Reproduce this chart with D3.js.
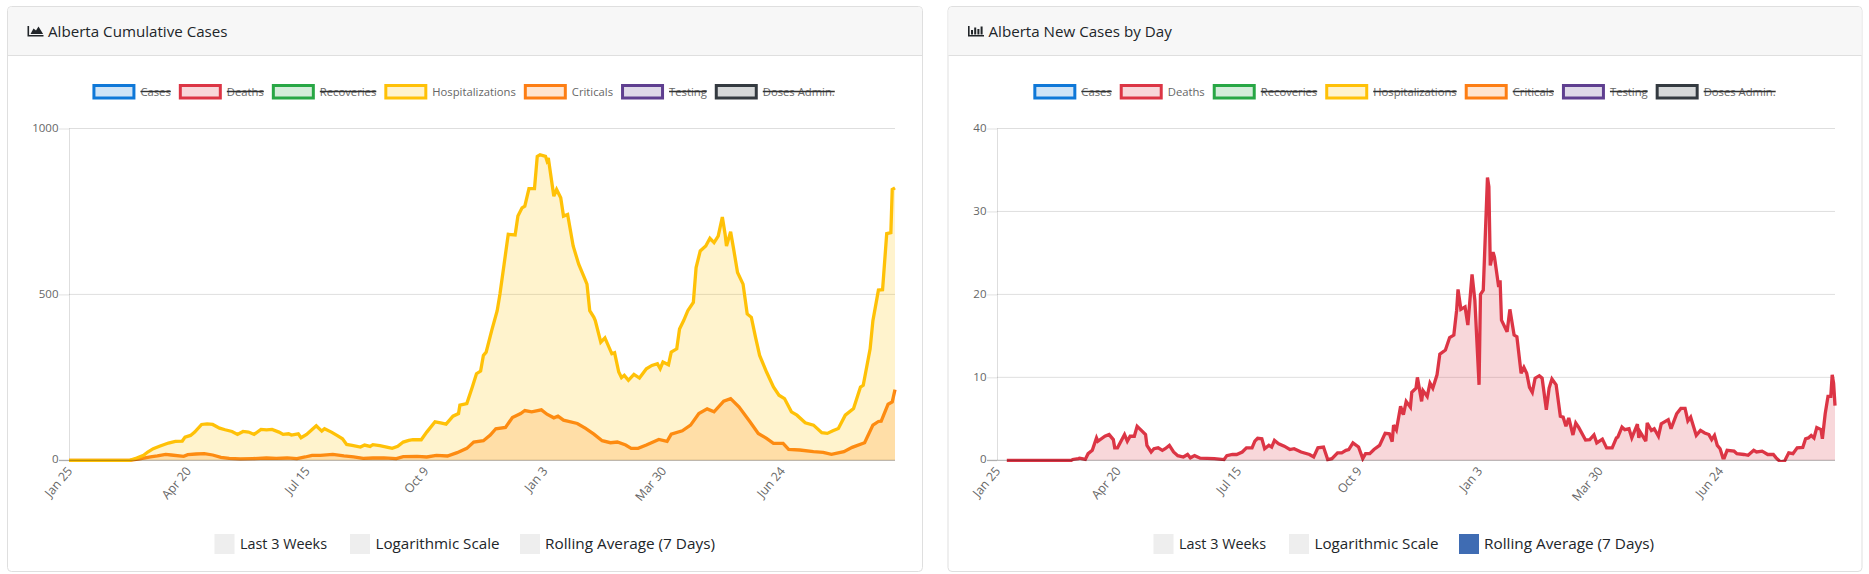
<!DOCTYPE html>
<html><head><meta charset="utf-8">
<script src="https://cdn.jsdelivr.net/npm/d3@7"></script>
<style>
html,body{margin:0;padding:0;background:#fff;overflow:hidden}
svg{display:block;font-family:"Open Sans",sans-serif}
</style></head><body>
<svg id="c" width="1869" height="574"></svg>
<script>
const tickDays=[0,86,172,258,344,430,516];
const tickLabels=["Jan 25","Apr 20","Jul 15","Oct 9","Jan 3","Mar 30","Jun 24"];
const legendNames=["Cases","Deaths","Recoveries","Hospitalizations","Criticals","Testing","Doses Admin."];
const legendColors=["#0f78d8","#dc3545","#28a745","#ffc107","#fd7e14","#5f3f90","#343a40"];
const toggleNames=["Last 3 Weeks","Logarithmic Scale","Rolling Average (7 Days)"];
const lastDay=598;

const hospDays=[0,44,49,54,57,61,66,72,77,82,84,88,91,96,100,104,109,113,118,122,126,130,134,139,143,147,152,155,159,161,166,168,172,176,179,183,185,190,194,198,201,205,211,214,218,220,225,230,234,238,242,246,249,255,259,265,269,273,278,282,283,288,292,295,298,300,302,306,310,312,315,318,323,325,328,330,333,337,339,341,345,346,347,351,353,356,358,361,365,369,373,375,377,380,381,385,388,393,395,398,400,402,405,409,413,418,422,426,428,430,434,436,440,442,445,448,452,454,457,461,464,467,470,473,475,476,479,481,484,488,491,494,497,500,505,510,514,518,523,527,533,539,545,549,553,557,562,568,573,575,580,582,586,589,592,595,596,598];
const hospVals=[0,0,7,15,25,35,43,52,57,58,70,75,85,108,110,108,97,92,87,78,87,85,78,93,92,93,85,78,80,76,80,68,78,93,104,88,95,85,75,65,48,45,40,46,42,47,44,40,36,42,55,60,62,62,85,116,113,109,133,141,166,171,221,261,269,316,326,391,451,501,591,681,679,736,761,766,819,819,916,921,916,903,911,796,816,791,736,741,646,591,551,531,451,431,421,356,369,321,324,266,249,256,241,259,248,276,286,291,276,296,288,326,336,396,421,451,476,581,631,646,669,656,676,733,681,646,689,641,566,531,441,431,371,316,266,221,196,186,146,136,113,106,83,81,89,96,136,156,221,226,336,421,513,514,683,686,816,821];

const critDays=[0,44,51,59,64,70,74,83,86,92,98,104,110,116,124,133,143,150,158,165,171,176,182,191,199,206,213,220,228,237,242,252,259,266,274,281,288,293,300,305,309,316,321,327,330,335,342,346,351,354,358,368,374,380,386,392,397,403,407,412,418,427,433,436,444,450,456,462,467,474,479,485,493,499,505,510,517,521,529,539,546,552,561,567,576,582,586,588,593,596,598];
const critVals=[0,0,4,10,13,18,16,12,17,19,20,16,9,6,4,5,7,6,7,5,10,15,15,18,13,10,6,7,7,5,11,12,10,15,13,23,36,55,59,76,95,99,129,141,150,146,152,139,128,133,121,111,96,79,59,53,55,46,36,36,46,63,57,79,89,106,141,155,146,178,186,161,116,81,66,51,51,33,31,26,24,18,26,39,53,106,117,118,169,176,213];

const deathDays=[7,53,54,58,59,63,65,68,71,72,77,80,83,84,86,91,93,95,98,100,103,106,107,110,112,115,118,120,123,126,129,133,136,138,141,145,155,162,164,168,171,175,178,182,184,186,189,191,194,196,198,201,205,209,212,217,223,226,229,233,236,239,243,246,249,251,254,258,261,263,266,269,273,277,280,282,283,285,288,290,292,295,296,299,300,303,304,307,309,311,314,316,320,323,326,328,329,331,334,336,339,341,344,345,347,350,351,352,354,355,358,359,360,364,366,369,371,374,376,378,380,382,384,387,389,392,394,396,399,402,404,406,408,411,413,415,420,423,426,428,432,435,439,442,443,446,448,451,453,457,458,459,463,464,467,469,472,474,479,481,485,488,491,493,495,499,502,505,508,510,512,514,516,518,519,521,526,528,533,536,540,542,546,550,554,556,559,562,565,568,571,575,577,579,581,583,585,588,589,591,593,595,596,597,598];
const deathVals=[0,0,.1,.2,.25,.1,.8,1.2,2.7,2.3,2.9,3.1,2.5,1.5,1.5,3.1,2.3,2.9,2.9,4.1,3.6,3.1,1.8,1,1.4,1.5,1.2,1.4,1.8,1,.56,.4,.7,.3,.56,.25,.2,.08,.56,.7,.7,1,1.5,1.5,2.3,2.65,2.6,1.4,1.8,1.6,2.4,2,1.7,1.3,1.4,1,.7,.4,1.5,1.6,.08,.2,.9,.9,1.2,1.3,2.1,1.6,.2,.8,.8,1.3,1.8,3.25,3.2,2.25,4.25,3.65,6.5,5.5,7.1,6.4,8.2,8.7,10,7.1,8.4,7.7,9.3,8.7,10.3,12.8,13.3,14.8,15.1,18.1,20.6,18.2,18.5,16.3,22.4,19.3,9.1,20,20.5,34.1,33,23.5,25.1,24.5,20.9,21.7,16.9,15.5,18.2,15.1,14.9,10.5,11.2,10.5,8.8,8.2,9.9,10.2,9.9,6.1,8.7,9.8,9.1,5.3,5.2,4.1,5.1,3.05,4.5,4,2.45,2.5,3.05,2.1,2.55,1.5,1.5,2.7,2.8,4,3.7,3.8,2.7,4.35,2.7,3.4,2.3,4.5,3.6,3.8,2.9,4.4,4.9,3.8,5.6,6.25,6.25,4.75,5.2,3,3.6,3.3,3.1,2.5,3,1.8,1.4,.3,.3,1.2,1.1,.8,.7,.6,1.2,1,1.1,.7,.7,.3,-.2,-.1,.9,.8,1.5,1.55,2.6,2.7,3,2.7,3.95,3.7,2.6,5.6,7.7,7.7,10.3,9.3,6.6];

const svg=d3.select("#c");
let uid=0;

function card(o){
  const g=svg.append("g");
  g.append("rect").attr("x",o.cx+.5).attr("y",6.5).attr("width",o.cw).attr("height",565)
    .attr("rx",4).attr("fill","#fff").attr("stroke","#dfdfdf");
  g.append("path").attr("d",`M${o.cx+1},55V11a4,4 0 0 1 4,-4H${o.cx+o.cw-4}a4,4 0 0 1 4,4V55Z`).attr("fill","#f7f7f7");
  g.append("line").attr("x1",o.cx+1).attr("x2",o.cx+o.cw).attr("y1",55.5).attr("y2",55.5).attr("stroke","#dfdfdf");
  // header icon
  const ix=o.cx+20.5, iy=26;
  g.append("path").attr("fill","#212529").attr("d",o.icon==="area"
    ?`M${ix},${iy}h1.6v9h14.4v1.6h-16Z M${ix+3},${iy+8}l3,-5.5 2.5,2 2.5,-4 4.6,7.5Z`
    :`M${ix},${iy}h1.6v9h14.4v1.6h-16Z M${ix+3},${iy+4}h2v4.6h-2Z M${ix+6.2},${iy+1.5}h2v7.1h-2Z M${ix+9.4},${iy+3}h2v5.6h-2Z M${ix+12.6},${iy+.5}h2v8.1h-2Z`);
  g.append("text").attr("x",o.cx+41).attr("y",36.7).attr("font-size",15.15).attr("fill","#212529").text(o.title);

  // legend
  const gap=8;
  const lg=g.append("g").attr("font-size",11.25).attr("fill","#666");
  const items=legendNames.map((n,i)=>{
    const t=lg.append("text").attr("y",95.5).text(n);
    return {n,i,t,w:t.node().getComputedTextLength()};
  });
  const total=d3.sum(items,d=>d.w+48)+gap*(items.length-1);
  let lx=o.legendCenter-total/2;
  items.forEach(d=>{
    const c=legendColors[d.i];
    lg.append("rect").attr("x",lx+1.5).attr("y",85.5).attr("width",40).attr("height",12.5)
      .attr("fill",d3.color(c).copy({opacity:.2})).attr("stroke",c).attr("stroke-width",3);
    d.t.attr("x",lx+48);
    if(!o.shown.includes(d.n)){
      lg.append("line").attr("x1",lx+48).attr("x2",lx+48+d.w).attr("y1",91.5).attr("y2",91.5)
        .attr("stroke","#333").attr("stroke-width",1.4);
    }
    lx+=d.w+48+gap;
  });

  // scales
  const x=d3.scaleLinear().domain([0,lastDay]).range([o.left,o.right]);
  const y=d3.scaleLinear().domain(o.domain).range([460.3,128.5]);

  // y axis and grid
  const ya=g.append("g").attr("transform",`translate(${o.left},0)`)
    .call(d3.axisLeft(y).tickValues(o.yTicks).tickFormat(d3.format("d")).tickSize(10).tickPadding(0));
  ya.select(".domain").remove();
  ya.selectAll("line").attr("x2",-10).attr("stroke","rgba(0,0,0,.12)");
  ya.selectAll("text").attr("font-family","Open Sans").attr("font-size",11.5).attr("fill","#666").attr("x",-10.5).attr("y",-1);
  g.append("g").selectAll("line").data(o.yTicks.slice(1)).join("line")
    .attr("x1",o.left).attr("x2",o.right).attr("y1",d=>y(d)).attr("y2",d=>y(d))
    .attr("stroke","rgba(0,0,0,.13)");
  g.append("line").attr("x1",o.left+.5).attr("x2",o.left+.5).attr("y1",128.5).attr("y2",460)
    .attr("stroke","rgba(0,0,0,.13)");

  // series
  const id="clip"+(uid++);
  g.append("clipPath").attr("id",id).append("rect").attr("x",o.left).attr("y",120)
    .attr("width",o.right-o.left+2).attr("height",341.9);
  const pl=g.append("g").attr("clip-path",`url(#${id})`);
  o.series.forEach(s=>{
    const pts=s.days.map((d,i)=>[d,s.vals[i]]);
    pl.append("path").datum(pts).attr("fill",d3.color(s.color).copy({opacity:.2}))
      .attr("d",d3.area().x(d=>x(d[0])).y0(y(0)).y1(d=>Math.min(y(d[1]),y(0))));
    pl.append("path").datum(pts).attr("fill","none").attr("stroke",s.color).attr("stroke-width",3.3)
      .attr("stroke-linejoin","miter").attr("stroke-miterlimit",3)
      .attr("d",d3.line().x(d=>x(d[0])).y(d=>y(d[1])));
  });
  g.append("line").attr("x1",o.left-10).attr("x2",o.right).attr("y1",460.3).attr("y2",460.3)
    .attr("stroke","rgba(0,0,0,.32)");

  // x axis
  const xa=g.append("g").attr("transform","translate(0,460.3)")
    .call(d3.axisBottom(x).tickValues(tickDays).tickFormat((d,i)=>tickLabels[i]).tickSize(0));
  xa.select(".domain").remove();
  xa.selectAll("text").attr("font-family","Open Sans").attr("font-size",12.3).attr("fill","#666")
    .attr("text-anchor","end").attr("dy",0).attr("y",0)
    .attr("transform","translate(3.5,11) rotate(-50)");

  // toggles
  const tg=g.append("g").attr("font-size",15).attr("fill","#212529");
  const tx=[214.5,350,520], ttx=[240,375.5,545], tw=[87,124,170];
  toggleNames.forEach((n,i)=>{
    tg.append("rect").attr("x",tx[i]+o.off).attr("y",534).attr("width",20).attr("height",20)
      .attr("fill",n===o.on?"#3f6cb3":"#eeeeee");
    tg.append("text").attr("x",ttx[i]+o.off).attr("y",549).attr("textLength",tw[i])
      .attr("lengthAdjust","spacingAndGlyphs").text(n);
  });
}

card({cx:7,cw:915,title:"Alberta Cumulative Cases",icon:"area",left:69,right:895,legendCenter:463.6,
  domain:[0,1000],yTicks:[0,500,1000],shown:["Hospitalizations","Criticals"],on:null,off:0,
  series:[{days:critDays,vals:critVals,color:"#fd7e14"},{days:hospDays,vals:hospVals,color:"#ffc107"}]});
card({cx:947.5,cw:914,title:"Alberta New Cases by Day",icon:"bar",left:997,right:1835,legendCenter:1404.5,
  domain:[0,40],yTicks:[0,10,20,30,40],shown:["Deaths"],on:"Rolling Average (7 Days)",off:939,
  series:[{days:deathDays,vals:deathVals,color:"#dc3545"}]});
</script>
</body></html>
